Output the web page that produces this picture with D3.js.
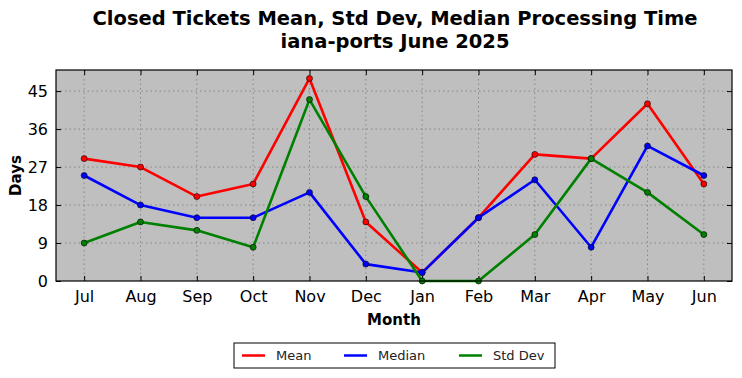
<!DOCTYPE html>
<html>
<head>
<meta charset="utf-8">
<script src="https://cdn.jsdelivr.net/npm/d3@7"></script>
<style>
  body { margin: 0; background: #fff; }
  text { font-family: "DejaVu Sans", sans-serif; }
</style>
</head>
<body>
<div id="chart"></div>
<script>
// Data
var months = ["Jul", "Aug", "Sep", "Oct", "Nov", "Dec", "Jan", "Feb", "Mar", "Apr", "May", "Jun"];
var meanVals = [29, 27, 20, 23, 48, 14, 2, 15, 30, 29, 42, 23];
var medianVals = [25, 18, 15, 15, 21, 4, 2, 15, 24, 8, 32, 25];
var stdVals = [9, 14, 12, 8, 43, 20, 0, 0, 11, 29, 21, 11];
var yTicks = [0, 9, 18, 27, 36, 45];

var series = [
  { name: "Mean", color: "#ff0000", values: meanVals },
  { name: "Median", color: "#0000ff", values: medianVals },
  { name: "Std Dev", color: "#008000", values: stdVals }
];

var svgWidth = 742;
var svgHeight = 378;
var margin = { top: 70, right: 10, bottom: 97, left: 56 };
var width = svgWidth - margin.left - margin.right;
var height = svgHeight - margin.top - margin.bottom;

var svg = d3.select("#chart")
  .append("svg")
  .attr("width", svgWidth)
  .attr("height", svgHeight);

// Title
svg.append("text")
  .attr("x", 395).attr("y", 25)
  .attr("text-anchor", "middle")
  .attr("font-size", "19.5px").attr("font-weight", "bold")
  .text("Closed Tickets Mean, Std Dev, Median Processing Time");
svg.append("text")
  .attr("x", 395).attr("y", 48)
  .attr("text-anchor", "middle")
  .attr("font-size", "19.5px").attr("font-weight", "bold")
  .text("iana-ports June 2025");

var chartGroup = svg.append("g")
  .attr("transform", `translate(${margin.left}, ${margin.top})`);

var xScale = d3.scaleLinear()
  .domain([-0.5, months.length - 0.5])
  .range([0, width]);

var yScale = d3.scaleLinear()
  .domain([0, 50])
  .range([height, 0]);

// background
chartGroup.append("rect")
  .attr("width", width).attr("height", height)
  .attr("fill", "#bfbfbf");

// grid
chartGroup.append("g")
  .selectAll("line")
  .data(yTicks.slice(1))
  .enter().append("line")
  .attr("x1", 0).attr("x2", width)
  .attr("y1", d => yScale(d)).attr("y2", d => yScale(d))
  .attr("stroke", "#7a7a7a").attr("stroke-width", 0.8)
  .attr("stroke-dasharray", "1.5,3");

chartGroup.append("g")
  .selectAll("line")
  .data(months)
  .enter().append("line")
  .attr("x1", (d, i) => xScale(i)).attr("x2", (d, i) => xScale(i))
  .attr("y1", 0).attr("y2", height)
  .attr("stroke", "#7a7a7a").attr("stroke-width", 0.8)
  .attr("stroke-dasharray", "1.5,3");

// axes (ticks pointing inward, classic style)
var bottomAxis = d3.axisBottom(xScale)
  .tickValues(d3.range(months.length))
  .tickFormat(i => months[i])
  .tickSizeInner(-5).tickSizeOuter(0).tickPadding(10);
var topAxis = d3.axisTop(xScale)
  .tickValues(d3.range(months.length))
  .tickFormat("")
  .tickSizeInner(-5).tickSizeOuter(0);
var leftAxis = d3.axisLeft(yScale)
  .tickValues(yTicks)
  .tickSizeInner(-5).tickSizeOuter(0).tickPadding(8);
var rightAxis = d3.axisRight(yScale)
  .tickValues(yTicks)
  .tickFormat("")
  .tickSizeInner(-5).tickSizeOuter(0);

function styleAxis(g) {
  g.select(".domain").remove();
  g.selectAll(".tick line").attr("stroke", "#000");
  g.selectAll(".tick text")
    .attr("font-size", "16px").attr("fill", "#000")
    .attr("font-family", "DejaVu Sans, sans-serif");
}

chartGroup.append("g")
  .attr("transform", `translate(0, ${height})`)
  .call(bottomAxis).call(styleAxis);
chartGroup.append("g").call(topAxis).call(styleAxis);
chartGroup.append("g").call(leftAxis).call(styleAxis);
chartGroup.append("g")
  .attr("transform", `translate(${width}, 0)`)
  .call(rightAxis).call(styleAxis);

// lines
var line = d3.line()
  .x((d, i) => xScale(i))
  .y(d => yScale(d));

series.forEach(s => {
  chartGroup.append("path")
    .datum(s.values)
    .attr("d", line)
    .attr("fill", "none")
    .attr("stroke", s.color)
    .attr("stroke-width", 2.6)
    .attr("stroke-linejoin", "round");
  chartGroup.append("g")
    .selectAll("circle")
    .data(s.values)
    .enter().append("circle")
    .attr("cx", (d, i) => xScale(i))
    .attr("cy", d => yScale(d))
    .attr("r", 3)
    .attr("fill", s.color)
    .attr("stroke", "#000")
    .attr("stroke-width", 0.6);
});

// frame
chartGroup.append("rect")
  .attr("width", width).attr("height", height)
  .attr("fill", "none").attr("stroke", "#000").attr("stroke-width", 1.2);

// axis labels
svg.append("text")
  .attr("x", margin.left + width / 2).attr("y", 325)
  .attr("text-anchor", "middle")
  .attr("font-size", "15px").attr("font-weight", "bold")
  .text("Month");

svg.append("text")
  .attr("transform", `translate(21, ${margin.top + height / 2}) rotate(-90)`)
  .attr("text-anchor", "middle")
  .attr("font-size", "15px").attr("font-weight", "bold")
  .text("Days");

// legend
var legend = svg.append("g").attr("transform", "translate(234, 343)");
legend.append("rect")
  .attr("width", 321).attr("height", 25)
  .attr("fill", "#fff").attr("stroke", "#000").attr("stroke-width", 1);

var legendX = [8, 110, 225];
series.forEach((s, i) => {
  legend.append("line")
    .attr("x1", legendX[i]).attr("x2", legendX[i] + 23)
    .attr("y1", 12.5).attr("y2", 12.5)
    .attr("stroke", s.color).attr("stroke-width", 2.5);
  legend.append("text")
    .attr("x", legendX[i] + 34).attr("y", 17)
    .attr("font-size", "13px").attr("fill", "#222")
    .text(s.name);
});
</script>
</body>
</html>
